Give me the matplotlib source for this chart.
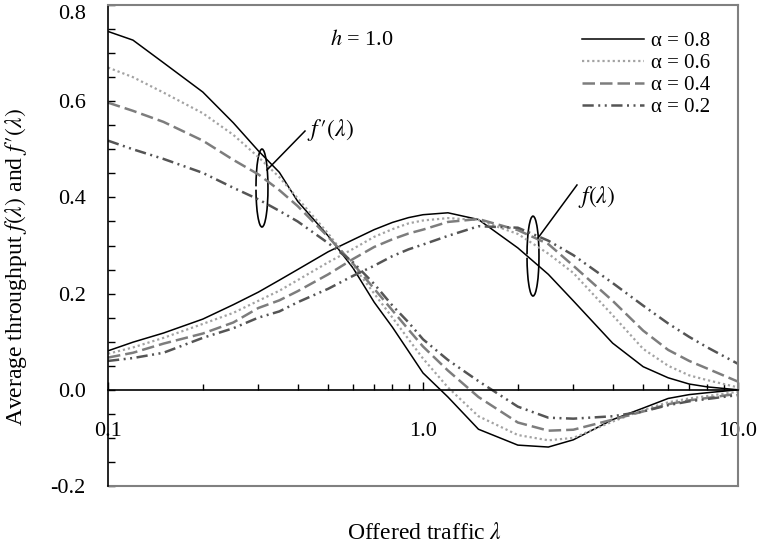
import matplotlib
matplotlib.use("Agg")
import matplotlib.pyplot as plt
from matplotlib.patches import Arc
from matplotlib.ticker import FixedLocator, FuncFormatter, LogLocator, NullFormatter, MultipleLocator

plt.rcParams['font.family'] = ['Liberation Serif', 'DejaVu Serif']
plt.rcParams['mathtext.fontset'] = 'stix'

# Offered traffic (log scale)
lam = [0.1, 0.12, 0.15, 0.2, 0.25, 0.3, 0.35, 0.4, 0.5, 0.6, 0.7, 0.8, 0.9,
       1.0, 1.2, 1.5, 2.0, 2.5, 3.0, 4.0, 5.0, 6.0, 7.0, 8.0, 10.0]

alpha_labels = ["\u03b1 = 0.8", "\u03b1 = 0.6", "\u03b1 = 0.4", "\u03b1 = 0.2"]

# Average throughput f(lambda), one list per alpha
f_a08 = [0.081, 0.099, 0.118, 0.147, 0.177, 0.203, 0.228, 0.250, 0.287, 0.312, 0.333, 0.348, 0.358,
         0.364, 0.368, 0.354, 0.295, 0.240, 0.185, 0.097, 0.048, 0.025, 0.012, 0.006, 0.000]
f_a06 = [0.075, 0.088, 0.108, 0.137, 0.160, 0.185, 0.206, 0.228, 0.265, 0.293, 0.318, 0.334, 0.346,
         0.352, 0.357, 0.353, 0.324, 0.283, 0.243, 0.155, 0.085, 0.050, 0.030, 0.020, 0.005]
f_a04 = [0.067, 0.077, 0.096, 0.117, 0.140, 0.170, 0.186, 0.205, 0.240, 0.272, 0.297, 0.313, 0.325,
         0.333, 0.349, 0.355, 0.332, 0.303, 0.258, 0.185, 0.123, 0.083, 0.060, 0.044, 0.017]
f_a02 = [0.060, 0.066, 0.077, 0.108, 0.128, 0.150, 0.163, 0.182, 0.210, 0.237, 0.258, 0.278, 0.292,
         0.302, 0.320, 0.340, 0.337, 0.310, 0.280, 0.222, 0.175, 0.138, 0.110, 0.088, 0.054]

# Derivative f'(lambda), one list per alpha
df_a08 = [0.745, 0.727, 0.680, 0.619, 0.555, 0.497, 0.452, 0.392, 0.320, 0.253, 0.182, 0.130, 0.080,
          0.035, -0.015, -0.082, -0.115, -0.119, -0.104, -0.062, -0.038, -0.018, -0.010, -0.006, 0.000]
df_a06 = [0.670, 0.650, 0.618, 0.575, 0.530, 0.484, 0.442, 0.398, 0.325, 0.258, 0.200, 0.150, 0.105,
          0.065, 0.005, -0.055, -0.094, -0.105, -0.100, -0.066, -0.042, -0.026, -0.018, -0.013, -0.004]
df_a04 = [0.597, 0.580, 0.557, 0.518, 0.478, 0.448, 0.415, 0.382, 0.318, 0.262, 0.210, 0.165, 0.125,
          0.090, 0.040, -0.015, -0.068, -0.085, -0.083, -0.062, -0.045, -0.030, -0.022, -0.017, -0.008]
df_a02 = [0.518, 0.500, 0.480, 0.451, 0.420, 0.396, 0.372, 0.350, 0.305, 0.265, 0.220, 0.175, 0.140,
          0.105, 0.062, 0.018, -0.035, -0.058, -0.060, -0.055, -0.045, -0.032, -0.024, -0.019, -0.011]

y_ticks = [-0.2, 0.0, 0.2, 0.4, 0.6, 0.8]
x_ticks = [0.1, 1.0, 10.0]

styles = [
    dict(color="#000000", lw=1.1, ls="-"),
    dict(color="#a3a3a3", lw=1.6, ls=(0, (1.0, 1.3))),
    dict(color="#7d7d7d", lw=1.8, ls=(0, (5.0, 2.0))),
    dict(color="#555555", lw=1.8, ls=(0, (4.5, 1.8, 0.8, 1.8, 0.8, 1.8))),
]

fig = plt.figure(figsize=(7.62, 5.51), dpi=100)
ax = fig.add_axes([108 / 762, (551 - 486) / 551, 630 / 762, 481 / 551])

f_series = [f_a08, f_a06, f_a04, f_a02]
df_series = [df_a08, df_a06, df_a04, df_a02]
handles = []
for st, fv, dv, lab in zip(styles, f_series, df_series, alpha_labels):
    h, = ax.plot(lam, dv, label=lab, **st)
    ax.plot(lam, fv, **st)
    handles.append(h)

ax.set_xscale("log")
ax.set_xlim(0.1, 10.0)
ax.set_ylim(-0.2, 0.8)

# x axis drawn along y = 0
ax.spines["bottom"].set_position(("data", 0.0))
ax.spines["bottom"].set_color("black")
ax.spines["bottom"].set_linewidth(1.2)
ax.spines["left"].set_color("black")
ax.spines["left"].set_linewidth(1.2)
for s in ("top", "right"):
    ax.spines[s].set_color("#808080")
    ax.spines[s].set_linewidth(1.5)
ax.plot([0, 1], [0, 0], transform=ax.transAxes, color="#808080", lw=1.5, clip_on=False)

ax.xaxis.set_major_locator(FixedLocator(x_ticks))
ax.xaxis.set_major_formatter(FuncFormatter(lambda v, p: f"{v:.1f}"))
ax.xaxis.set_minor_locator(LogLocator(base=10, subs=range(2, 10)))
ax.xaxis.set_minor_formatter(NullFormatter())
ax.tick_params(axis="x", which="major", direction="in", length=6, width=1.0, pad=23, labelsize=16)
ax.tick_params(axis="x", which="minor", direction="in", length=4, width=1.0)

ax.yaxis.set_major_locator(FixedLocator(y_ticks))
ax.yaxis.set_major_formatter(FuncFormatter(lambda v, p: f"{v:.1f}"))
ax.yaxis.set_minor_locator(MultipleLocator(0.05))
ax.tick_params(axis="y", which="major", direction="in", length=5, width=1.0, pad=16, labelsize=16)
ax.tick_params(axis="y", which="minor", direction="in", length=5, width=1.0)

# keep the top tick label inside the figure
fig.canvas.draw()
for lbl in ax.get_yticklabels():
    if lbl.get_text() == "0.8":
        lbl.set_verticalalignment("top")

ax.set_ylabel(r"Average throughput $f(\lambda)$ and $f\,\prime(\lambda)$", fontsize=17)
ax.yaxis.set_label_coords(-0.126, 0.455)
ax.set_xlabel(r"Offered traffic $\lambda$", fontsize=17)
ax.xaxis.set_label_coords(0.503, -0.076)

ax.text(0.403, 0.927, r"$h$ = 1.0", transform=ax.transAxes, ha="center", va="center", fontsize=16)

leg = ax.legend(handles=handles, loc="upper left", bbox_to_anchor=(0.752, 0.945),
                frameon=False, fontsize=15, handlelength=3.0, handletextpad=0.3,
                labelspacing=0.12, borderpad=0, borderaxespad=0)

# bracket symbols and leader lines for the two curve families
ax.add_patch(Arc((0.2444, 0.6195), 0.019, 0.162, theta1=200, theta2=160,
                 transform=ax.transAxes, color="black", lw=1.2))
ax.plot([0.2524, 0.3127], [0.657, 0.738], transform=ax.transAxes, color="black", lw=1.1)
ax.text(0.316, 0.740, r"$f\,\prime(\lambda)$", transform=ax.transAxes, ha="left", va="center", fontsize=17)

ax.add_patch(Arc((0.6746, 0.478), 0.019, 0.166, theta1=200, theta2=160,
                 transform=ax.transAxes, color="black", lw=1.2))
ax.plot([0.6825, 0.7444], [0.5156, 0.6258], transform=ax.transAxes, color="black", lw=1.1)
ax.text(0.746, 0.601, r"$f(\lambda)$", transform=ax.transAxes, ha="left", va="center", fontsize=17)

fig.savefig("out.png", dpi=100)
